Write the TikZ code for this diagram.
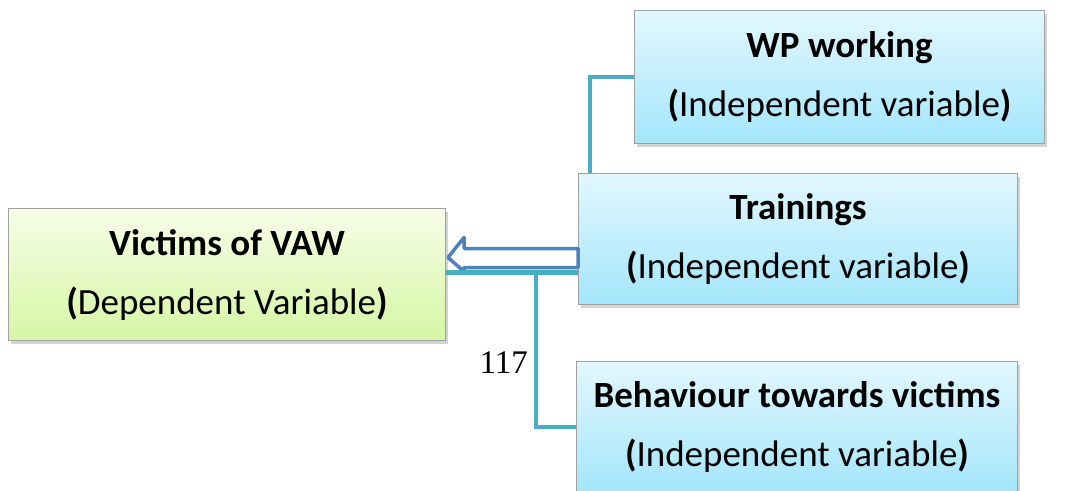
\documentclass[tikz,border=0pt]{standalone}
\usepackage{fontspec}
\setmainfont{Carlito}
\newfontfamily\numfont{Liberation Serif}
\usetikzlibrary{positioning, shadows}
\definecolor{linkteal}{RGB}{75,172,198}
\definecolor{arrowblue}{RGB}{79,129,189}
\definecolor{boxgray}{RGB}{160,160,160}
\definecolor{blueTop}{RGB}{226,247,254}
\definecolor{blueBot}{RGB}{164,230,251}
\definecolor{greenTop}{RGB}{247,253,232}
\definecolor{greenBot}{RGB}{213,247,164}

\begin{document}
\begin{tikzpicture}[x=1pt, y=-1pt,
  every node/.style={font=\fontsize{37}{59}\selectfont},
  varbox/.style={draw=boxgray, line width=1pt, anchor=north west,
    inner sep=0, align=center,
    drop shadow={shadow xshift=2pt, shadow yshift=-3pt, opacity=0.35}},
  bluebox/.style={varbox, top color=blueTop, bottom color=blueBot},
  greenbox/.style={varbox, top color=greenTop, bottom color=greenBot},
  link/.style={draw=linkteal, line width=4.5pt}]
  \def\varnode#1#2#3#4#5#6#7{
    \node[#1, minimum width=#4, minimum height=#5]
    (#2) at #3 {\textbf{#6}\\ \textbf{(}#7\textbf{)}};
  }
  \useasboundingbox (0,0) rectangle (1079,490);
  \clip (0,0) rectangle (1079,490);
  %\draw[help lines, step=50] (0,0) grid (1079,490);

  \varnode{greenbox}{vic}{(8,208)}{437pt}{132pt}
  {Victims of VAW}{Dependent Variable}
  \varnode{bluebox}{wp}{(634,10)}{410pt}{133pt}
  {WP working}{Independent variable}
  \varnode{bluebox}{trn}{(578,173)}{439pt}{131pt}
  {Trainings}{Independent variable}
  \varnode{bluebox}{beh}{(576,361)}{441pt}{131pt}
  {Behaviour towards victims}{Independent variable}

  % hollow block arrow towards the dependent variable
  \draw[arrowblue, line width=3.5pt, fill=white, line join=round]
  ([xshift=2pt, yshift=17pt] vic.east) --
  ([xshift=18pt, yshift=37pt] vic.east) --
  ([xshift=18pt, yshift=26pt] vic.east) --
  ([yshift=-9.5pt] trn.west) --
  ([yshift=-28.5pt] trn.west) --
  ([xshift=18pt, yshift=7pt] vic.east) --
  ([xshift=18pt, yshift=3pt] vic.east) -- cycle;

  \coordinate (split) at ([xshift=90pt, yshift=2pt] vic.east);
  \path[link] ([yshift=2pt] vic.east) -- ([yshift=2pt] vic.east -| trn.west);
  \path[link] (split) |- (beh.west);
  \path[link] (wp.west) -| ([xshift=12pt] trn.north west);

  \node[font=\numfont\fontsize{33}{34}\selectfont, anchor=east, inner sep=0]
  (pagenum) at (528,363) {117};
\end{tikzpicture}
\end{document}
